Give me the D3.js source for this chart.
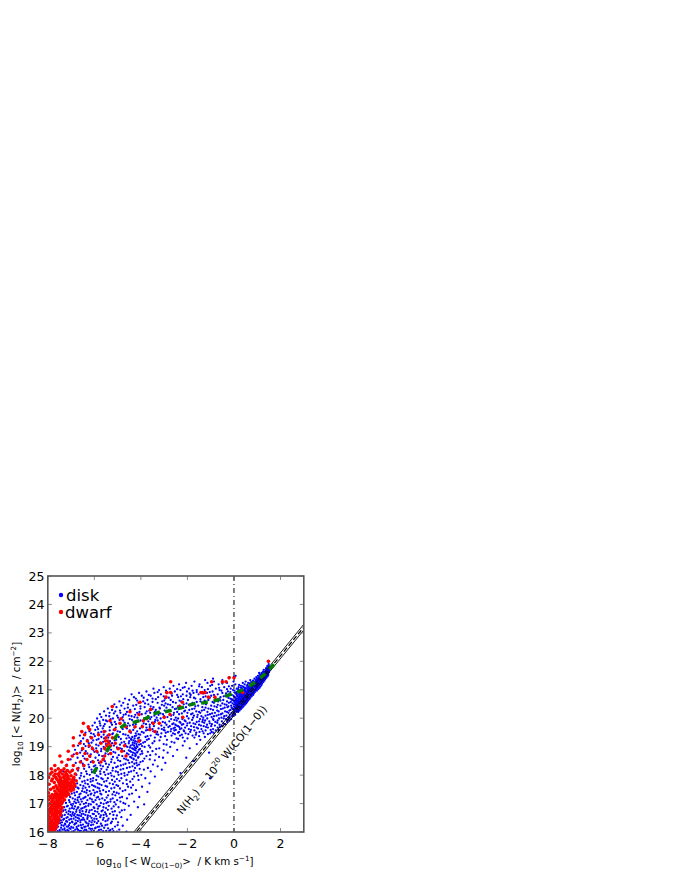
<!DOCTYPE html>
<html><head><meta charset="utf-8">
<script src="https://cdn.jsdelivr.net/npm/d3@7/dist/d3.min.js"></script>
<style>html,body{margin:0;padding:0;background:#fff}svg{display:block}text{font-family:"DejaVu Sans",sans-serif;fill:#000}</style>
</head><body><svg id="c" width="680" height="880"></svg>
<script>
const xTicks=[-8,-6,-4,-2,0,2];
const yTicks=[16,17,18,19,20,21,22,23,24,25];
const legendLabels=["disk","dwarf"];
const meanX=[-5.97,-5.41,-5.07,-4.76,-4.21,-3.75,-3.32,-2.82,-2.29,-1.8,-1.27,-0.74,-0.24,0.26,0.78,1.24,1.62];
const meanY=[18.16,18.92,19.35,19.73,19.88,20.01,20.19,20.25,20.36,20.49,20.55,20.64,20.81,20.96,21.2,21.49,21.81];
const diskRows=[
[16.01,[-7.93,-7.51,-7.44,-6.97,-6.31,-6.24,-5.87,-5.03,-4.62]],
[16.04,[-7.72,-7.11,-6.63,-6.58,-6.02,-5.49,-5.36]],
[16.08,[-7.86,-7.37,-7.29,-6.82,-6.41,-5.71,-4.93]],
[16.11,[-7.64,-7.02,-6.74,-6.16,-6.09,-5.22]],
[16.15,[-7.81,-7.43,-6.91,-6.55,-5.94,-5.58]],
[16.19,[-7.56,-7.18,-7.13,-6.37,-5.78,-5.11]],
[16.22,[-7.89,-7.32,-6.68,-6.27,-5.67,-4.78]],
[16.26,[-7.68,-7.25,-6.86,-6.49,-6.05,-5.44]],
[16.31,[-7.47,-7.05,-6.78,-6.33,-5.89,-5.29]],
[16.34,[-7.75,-7.39,-6.94,-6.6,-6.12,-4.98]],
[16.38,[-7.6,-7.21,-6.71,-6.21,-5.83,-5.52]],
[16.43,[-7.34,-7.08,-6.53,-6.44,-5.63,-4.59]],
[16.47,[-7.52,-6.89,-6.66,-6.0,-5.39,-5.07]],
[16.52,[-7.41,-7.15,-6.8,-6.29,-5.75,-4.84]],
[16.56,[-7.63,-6.98,-6.57,-6.18,-5.93,-5.47]],
[16.6,[-7.27,-7.03,-6.73,-6.39,-5.6,-5.18,-4.44]],
[16.64,[-7.46,-6.84,-6.47,-6.07,-5.81,-5.33]],
[16.69,[-7.2,-6.92,-6.62,-6.23,-5.54,-4.91]],
[16.73,[-7.36,-7.1,-6.51,-5.97,-5.69,-5.12]],
[16.78,[-7.24,-6.77,-6.34,-6.11,-5.42,-4.7]],
[16.82,[-7.06,-6.88,-6.56,-5.85,-5.26]],
[16.87,[-7.3,-6.69,-6.42,-6.03,-5.61,-4.96,-4.13]],
[16.92,[-7.14,-6.95,-6.26,-5.77,-5.38,-4.52]],
[16.97,[-7.0,-6.61,-6.15,-5.9,-5.08,-3.86]],
[17.02,[-7.22,-6.79,-6.36,-5.72,-5.48,-4.75]],
[17.07,[-6.86,-6.54,-6.08,-5.31,-4.88,-4.29]],
[17.12,[-7.09,-6.72,-6.3,-5.95,-5.55,-5.02]],
[17.18,[-6.93,-6.48,-6.19,-5.66,-5.21,-4.6]],
[17.23,[-7.04,-6.65,-6.38,-5.84,-4.81,-4.07]],
[17.29,[-6.83,-6.27,-6.01,-5.41,-5.1]],
[17.35,[-6.97,-6.59,-6.13,-5.74,-4.95,-4.38]],
[17.41,[-6.75,-6.43,-5.88,-5.5,-5.16,-3.72]],
[17.47,[-6.9,-6.32,-6.04,-5.62,-4.67,-4.21]],
[17.53,[-6.68,-6.5,-5.79,-5.27,-4.9]],
[17.59,[-6.81,-6.22,-5.96,-5.45,-4.55,-3.95]],
[17.65,[-6.6,-6.1,-5.69,-5.05,-4.34]],
[17.71,[-6.74,-6.39,-5.86,-5.34,-4.77,-3.63]],
[17.77,[-7.28,-6.52,-6.16,-5.58,-5.12,-4.46]],
[17.83,[-6.86,-6.29,-5.92,-5.24,-4.62,-4.1]],
[17.89,[-6.63,-6.05,-5.7,-5.42,-4.84,-3.81,-1.03]],
[17.95,[-7.14,-6.44,-5.83,-5.15,-4.29,-3.4]],
[18.01,[-6.77,-6.2,-5.53,-4.96,-4.58,-3.98]],
[18.07,[-6.56,-5.98,-5.3,-4.71,-4.18,-2.3]],
[18.13,[-7.33,-6.35,-5.75,-5.08,-4.42,-3.58]],
[18.19,[-6.93,-6.12,-5.47,-4.87,-3.87,-3.1]],
[18.25,[-6.68,-5.89,-5.2,-4.6,-4.25,-3.7]],
[18.31,[-6.46,-6.02,-5.63,-4.99,-4.36,-3.28]],
[18.37,[-7.18,-6.25,-5.37,-4.75,-4.08,-3.48]],
[18.43,[-6.8,-5.8,-5.13,-4.5,-4.19,-2.95]],
[18.49,[-6.57,-6.08,-5.55,-4.89,-3.92,-1.75]],
[18.55,[-7.02,-6.33,-5.26,-4.63,-4.31,-3.62]],
[18.61,[-6.72,-5.95,-5.02,-4.41,-4.12,-3.05,-2.05]],
[18.67,[-6.49,-5.66,-4.8,-4.24,-3.76,-2.62]],
[18.73,[-6.88,-6.15,-5.4,-4.53,-4.02,-3.36]],
[18.79,[-6.61,-5.86,-5.1,-4.34,-4.17,-2.85,-1.07]],
[18.84,[-6.37,-5.71,-4.72,-4.46,-3.96,-3.5]],
[18.89,[-6.83,-6.04,-5.28,-4.28,-4.09,-2.44]],
[18.94,[-6.52,-5.92,-4.9,-4.38,-4.21,-3.21,-1.9]],
[18.99,[-6.24,-5.6,-4.58,-4.15,-3.84,-2.74]],
[19.04,[-6.7,-5.82,-5.16,-4.44,-4.3,-3.66,-2.2]],
[19.09,[-6.45,-5.5,-4.67,-4.19,-4.0,-3.02,-1.6]],
[19.14,[-6.12,-5.75,-4.83,-4.35,-3.9,-2.56]],
[19.19,[-6.58,-5.33,-4.5,-4.24,-4.06,-3.42,-2.12]],
[19.24,[-6.3,-5.9,-5.06,-4.41,-3.74,-2.88,-1.45]],
[19.29,[-6.48,-5.58,-4.62,-4.27,-4.13,-2.47,-2.0]],
[19.34,[-6.17,-5.7,-4.95,-4.37,-3.8,-3.15,-1.25]],
[19.39,[-6.62,-5.44,-4.55,-4.2,-3.58,-2.68,-2.32,-1.78]],
[19.44,[-6.03,-5.23,-4.76,-4.1,-3.33,-2.54,-1.96,-1.12]],
[19.49,[-6.38,-5.83,-4.43,-3.88,-2.93,-2.4,-1.62,-0.88]],
[19.54,[-6.21,-5.52,-5.0,-4.16,-3.47,-2.72,-2.14,-1.35]],
[19.59,[-5.96,-5.17,-4.33,-3.7,-3.02,-2.5,-1.85,-1.0,-0.66]],
[19.64,[-6.26,-5.64,-4.6,-4.04,-3.24,-2.6,-2.26,-1.55]],
[19.69,[-5.88,-5.34,-4.85,-3.62,-2.82,-2.35,-1.72,-1.2,-0.6]],
[19.74,[-6.08,-5.74,-4.48,-3.95,-3.12,-2.46,-2.02,-1.42,-0.82]],
[19.79,[-5.55,-5.07,-4.22,-3.78,-2.65,-2.18,-1.66,-0.95,-0.38]],
[19.84,[-5.98,-5.28,-4.7,-3.52,-2.96,-2.3,-1.9,-1.28,-0.72]],
[19.89,[-5.78,-5.45,-4.12,-3.68,-2.78,-2.08,-1.5,-1.06,-0.52]],
[19.94,[-5.62,-4.92,-4.38,-3.38,-2.56,-1.8,-1.34,-0.88,-0.28]],
[19.99,[-5.88,-5.2,-3.86,-3.15,-2.4,-1.95,-1.15,-0.64,-0.44]],
[20.04,[-5.7,-4.78,-4.28,-3.55,-2.86,-2.22,-1.58,-0.96,-0.18]],
[20.09,[-5.5,-5.02,-4.52,-3.42,-2.7,-1.72,-1.22,-0.75,-0.33,-0.05]],
[20.14,[-5.76,-4.65,-3.96,-3.05,-2.36,-1.84,-1.03,-0.56,0.0]],
[20.19,[-5.35,-4.88,-4.16,-3.6,-2.58,-2.0,-1.45,-0.82,-0.24,-0.1]],
[20.24,[-5.58,-5.1,-3.75,-2.92,-2.14,-1.62,-0.66,-0.38,0.07,0.14]],
[20.29,[-5.24,-4.46,-3.36,-2.78,-1.92,-1.28,-0.9,-0.15,0.0,0.2]],
[20.34,[-5.42,-4.7,-4.02,-3.18,-2.48,-1.7,-1.1,-0.48,-0.06,0.11,0.26]],
[20.39,[-5.05,-3.84,-3.46,-2.64,-2.06,-1.36,-0.74,-0.28,0.04,0.17,0.3]],
[20.44,[-4.84,-4.33,-3.0,-2.34,-1.54,-0.98,-0.58,-0.12,0.09,0.23,0.36]],
[20.49,[-5.14,-4.56,-3.68,-2.84,-2.16,-1.2,-0.4,0.01,0.14,0.27,0.42,0.33]],
[20.54,[-4.76,-4.1,-3.28,-2.5,-1.78,-0.86,-0.22,0.06,0.19,0.31,0.46,0.38]],
[20.59,[-4.92,-3.9,-3.08,-2.26,-1.44,-0.68,-0.3,0.02,0.12,0.25,0.4,0.52]],
[20.64,[-4.5,-3.72,-2.72,-1.98,-1.1,-0.46,-0.08,0.08,0.21,0.35,0.48,0.57]],
[20.69,[-4.68,-4.22,-3.5,-2.96,-1.66,-0.8,-0.16,0.16,0.29,0.43,0.54,0.62]],
[20.74,[-4.3,-3.26,-2.4,-1.88,-1.32,-0.58,0.03,0.24,0.37,0.5,0.66,0.6]],
[20.79,[-3.96,-3.58,-2.66,-2.04,-0.98,-0.36,-0.02,0.13,0.32,0.45,0.56,0.71]],
[20.84,[-4.4,-3.14,-2.2,-1.52,-0.7,-0.2,0.1,0.28,0.41,0.59,0.68,0.76]],
[20.89,[-4.08,-3.42,-2.86,-1.74,-1.16,-0.5,0.05,0.22,0.39,0.53,0.64,0.8]],
[20.94,[-3.76,-2.54,-2.02,-0.92,-0.26,0.18,0.34,0.47,0.6,0.73,0.86]],
[20.99,[-3.22,-2.3,-1.6,-1.26,-0.62,-0.04,0.26,0.44,0.58,0.7,0.83,0.91]],
[21.04,[-3.46,-2.76,-1.94,-0.78,-0.14,0.12,0.36,0.51,0.67,0.78,0.96]],
[21.09,[-3.02,-2.12,-1.38,-0.42,0.2,0.42,0.63,0.74,0.88,1.02]],
[21.14,[-2.6,-1.82,-1.02,-0.08,0.3,0.55,0.7,0.82,0.94,1.07]],
[21.19,[-2.36,-1.48,-0.66,0.06,0.46,0.76,0.86,1.0,1.12]],
[21.24,[-2.06,-1.14,-0.3,0.38,0.61,0.9,1.04,1.16,0.79]],
[21.29,[-1.7,-0.86,-0.02,0.5,0.84,0.98,1.1,1.21]],
[21.34,[-1.24,-0.5,0.7,0.93,1.06,1.18,1.26]],
[21.39,[-0.9,0.0,0.88,1.01,1.14,1.24,1.31]],
[21.44,[-0.2,0.96,1.09,1.2,1.29,1.36]],
[21.49,[0.07,1.03,1.16,1.27,1.34,1.41]],
[21.54,[1.11,1.23,1.32,1.39,1.45]],
[21.59,[1.08,1.19,1.3,1.37,1.44]],
[21.64,[1.25,1.35,1.42,1.48]],
[21.7,[1.28,1.4,1.47,1.52]],
[21.76,[1.38,1.46,1.51]],
[21.83,[1.43,1.5]],
[21.9,[1.49]]
];
const diskExtra=[
[16.03,[-7.58,-7.23,-6.89,-6.46,-6.13,-5.62,-5.18]],
[16.07,[-7.49,-7.16,-6.7,-6.35,-5.8,-5.31]],
[16.13,[-7.28,-7.07,-6.52,-6.22,-5.97,-5.41]],
[16.18,[-7.67,-6.99,-6.76,-6.43,-5.85]],
[16.24,[-7.41,-7.09,-6.58,-6.14,-5.52,-5.0]],
[16.29,[-7.59,-7.26,-6.83,-6.25,-5.72]],
[16.36,[-7.17,-6.96,-6.38,-5.99,-5.25]],
[16.41,[-7.44,-6.8,-6.6,-6.08,-5.43]],
[16.46,[-7.3,-7.0,-6.3,-5.9,-5.2]],
[16.5,[-7.2,-6.72,-6.48,-6.12,-5.6]],
[16.58,[-7.38,-6.87,-6.66,-6.28,-5.72,-5.03]],
[16.63,[-7.12,-6.94,-6.55,-6.02,-5.5]],
[16.71,[-7.03,-6.78,-6.36,-5.87,-5.22]],
[16.76,[-7.33,-6.63,-6.2,-5.64,-4.82]],
[16.84,[-6.96,-6.72,-6.5,-6.0,-5.5]],
[16.9,[-7.18,-6.83,-6.37,-5.82,-5.17]],
[16.99,[-6.91,-6.45,-6.24,-5.6,-4.67]],
[17.05,[-7.06,-6.68,-6.03,-5.42,-5.14]],
[17.15,[-6.82,-6.58,-6.11,-5.78,-5.3]],
[17.21,[-6.71,-6.42,-5.9,-5.47,-4.9]],
[17.32,[-6.64,-6.16,-5.7,-5.22,-4.5]],
[17.38,[-6.86,-6.34,-5.98,-5.04]],
[17.44,[-6.53,-6.2,-5.76,-5.37,-4.78]],
[17.56,[-6.72,-6.38,-5.86,-5.14,-4.42]],
[17.62,[-6.47,-6.02,-5.52,-4.98]],
[17.68,[-6.28,-5.78,-5.2,-4.6]],
[17.8,[-6.42,-6.07,-5.48,-4.92]],
[17.86,[-6.16,-5.64,-5.03,-4.36]],
[17.98,[-6.58,-5.9,-5.26,-4.7,-4.12]],
[18.04,[-6.32,-5.74,-5.4,-4.84]],
[18.1,[-6.1,-5.58,-4.99,-4.52]],
[18.16,[-6.7,-5.92,-5.22,-4.3]],
[18.22,[-6.44,-5.7,-4.76,-4.05]],
[18.28,[-6.22,-5.42,-5.06,-4.48]],
[18.34,[-5.96,-5.74,-4.86,-4.16]],
[18.4,[-6.5,-5.5,-4.66,-4.28]],
[18.46,[-6.15,-5.28,-4.38,-4.02]],
[18.52,[-5.84,-4.98,-4.55,-4.2,-3.4]],
[18.58,[-6.42,-5.6,-4.72,-4.32,-3.85]],
[18.64,[-6.18,-5.2,-4.46,-4.1,-3.22]],
[18.7,[-5.8,-4.95,-4.36,-4.22,-3.6]],
[18.76,[-6.3,-5.52,-4.6,-4.26,-3.94]],
[18.82,[-6.0,-5.18,-4.42,-4.14,-3.7]],
[18.87,[-6.54,-5.4,-4.52,-4.23,-3.02]],
[18.92,[-5.7,-4.82,-4.33,-4.04,-3.34]],
[18.97,[-6.1,-5.03,-4.47,-4.26,-3.6]],
[19.02,[-6.38,-5.44,-4.64,-4.18,-3.95]],
[19.07,[-5.92,-4.9,-4.36,-4.08,-2.9]],
[19.12,[-6.24,-5.24,-4.52,-4.27,-3.5]],
[19.17,[-5.62,-4.72,-4.16,-3.82,-2.68]],
[19.22,[-6.05,-5.13,-4.32,-4.02,-3.2]],
[19.27,[-5.82,-4.86,-4.42,-3.66,-2.4]],
[19.32,[-5.4,-4.5,-4.08,-3.4,-2.2,-1.7]],
[19.37,[-5.98,-5.08,-4.26,-3.72,-2.96,-1.5]],
[19.42,[-5.6,-4.66,-4.03,-3.26,-2.24,-1.64]],
[19.47,[-6.14,-5.2,-4.22,-3.12,-2.62,-2.08,-1.3,-1.02]],
[19.52,[-5.7,-4.9,-3.96,-3.3,-2.84,-2.36,-1.88,-1.48,-0.96]],
[19.57,[-5.34,-4.48,-3.78,-2.98,-2.56,-2.16,-1.7,-1.22,-0.78]],
[19.62,[-5.84,-4.78,-3.5,-3.1,-2.7,-2.32,-1.94,-1.4,-0.9]],
[19.67,[-5.08,-4.28,-3.76,-3.0,-2.54,-2.1,-1.6,-1.12,-0.7]],
[19.72,[-5.6,-4.6,-3.44,-2.76,-2.4,-1.84,-1.3,-0.98,-0.52]],
[19.77,[-5.24,-4.34,-3.62,-2.9,-2.52,-2.24,-1.5,-1.16,-0.62]],
[19.82,[-5.76,-4.55,-3.88,-3.22,-2.6,-2.0,-1.74,-1.04,-0.46]],
[19.87,[-5.12,-4.2,-3.4,-3.06,-2.34,-1.6,-1.36,-0.8,-0.3]],
[19.92,[-5.5,-4.76,-4.02,-3.28,-2.46,-2.12,-1.24,-0.7,-0.2]],
[19.97,[-5.3,-4.48,-3.6,-2.7,-2.22,-1.46,-0.9,-0.34,-0.12]],
[20.02,[-4.98,-4.15,-3.32,-2.5,-1.76,-1.32,-0.54,-0.24]],
[20.07,[-5.36,-4.4,-3.7,-3.0,-2.02,-1.4,-0.86,-0.42,-0.08]],
[20.12,[-4.74,-4.24,-3.24,-2.6,-1.56,-1.12,-0.66,-0.18,0.05]],
[20.17,[-5.16,-3.8,-3.16,-2.24,-1.78,-0.94,-0.5,-0.02]],
[20.22,[-4.6,-4.06,-3.4,-2.44,-1.5,-1.14,-0.3,0.02,0.18]],
[20.27,[-4.9,-3.64,-2.98,-2.1,-1.38,-0.72,-0.2,0.1,0.24]],
[20.32,[-4.26,-3.5,-2.54,-1.8,-1.0,-0.56,-0.04,0.06,0.16,0.3]],
[20.37,[-4.56,-3.2,-2.9,-2.18,-1.22,-0.4,-0.1,0.13,0.22,0.36]],
[20.42,[-4.02,-3.58,-2.4,-1.66,-0.84,-0.24,0.0,0.19,0.28,0.41]],
[20.47,[-4.2,-3.1,-2.74,-1.94,-0.7,-0.32,0.07,0.16,0.35,0.47]],
[20.52,[-3.82,-2.94,-2.04,-1.3,-0.5,-0.06,0.11,0.24,0.43,0.52]],
[20.57,[-3.5,-2.62,-1.6,-0.92,-0.14,0.03,0.17,0.34,0.49,0.56]],
[20.62,[-4.16,-3.0,-2.34,-1.26,-0.58,-0.02,0.14,0.3,0.44,0.61]],
[20.67,[-3.36,-2.18,-1.44,-0.62,-0.1,0.1,0.26,0.38,0.52,0.66]],
[20.72,[-3.88,-2.8,-1.72,-1.04,-0.24,0.07,0.2,0.33,0.46,0.58,0.7]],
[20.77,[-3.02,-2.28,-1.22,-0.44,0.16,0.28,0.42,0.53,0.63,0.76]],
[20.82,[-3.66,-2.44,-1.86,-0.86,-0.1,0.22,0.36,0.5,0.62,0.74,0.82]],
[20.87,[-2.68,-1.9,-1.32,-0.34,0.14,0.32,0.44,0.57,0.72,0.85]],
[20.92,[-3.28,-1.6,-1.04,-0.16,0.1,0.28,0.52,0.66,0.78,0.9]],
[20.97,[-2.92,-1.78,-0.54,0.02,0.38,0.5,0.64,0.76,0.88,0.98]],
[21.02,[-2.44,-1.12,-0.3,0.18,0.46,0.62,0.74,0.85,0.93,1.04]],
[21.07,[-2.2,-0.64,0.3,0.48,0.58,0.7,0.8,0.92,1.0,1.1]],
[21.12,[-1.5,-0.22,0.38,0.62,0.78,0.9,0.98,1.05,1.14]],
[21.17,[-0.94,0.22,0.58,0.72,0.84,0.96,1.04,1.18]],
[21.22,[-0.5,0.68,0.82,0.94,1.02,1.1,1.2]],
[21.27,[0.74,0.9,1.02,1.08,1.16,1.26]],
[21.32,[0.82,0.96,1.04,1.12,1.2,1.3]],
[21.37,[0.98,1.08,1.16,1.22,1.28,1.34]],
[21.42,[1.04,1.12,1.18,1.26,1.32,1.39]],
[21.47,[1.1,1.2,1.25,1.31,1.38,1.44]],
[21.52,[1.16,1.26,1.35,1.42,1.47]],
[21.57,[1.24,1.33,1.4,1.47]],
[21.62,[1.3,1.39,1.45,1.5]],
[21.68,[1.36,1.44,1.5]]
];
const dwarfRows=[
[16.02,[-7.93,-7.81,-7.7]],
[16.09,[-7.97,-7.86,-7.7,-7.76]],
[16.17,[-7.9,-7.76,-7.64,-7.98]],
[16.24,[-7.99,-7.83,-7.64,-7.72]],
[16.31,[-7.92,-7.73,-7.58,-7.84]],
[16.38,[-8.0,-7.85,-7.67,-7.54]],
[16.45,[-7.94,-7.78,-7.6,-7.52,-7.69]],
[16.52,[-7.88,-7.71,-7.55,-7.98,-7.63]],
[16.59,[-7.98,-7.8,-7.63,-7.46,-7.72]],
[16.66,[-7.9,-7.75,-7.59,-7.47,-7.66]],
[16.73,[-7.84,-7.68,-7.5,-7.42,-7.95,-7.6]],
[16.8,[-7.96,-7.77,-7.62,-7.44,-7.86]],
[16.86,[-7.87,-7.72,-7.54,-7.38,-7.63]],
[16.93,[-7.99,-7.82,-7.65,-7.47,-7.56,-7.74]],
[17.0,[-7.91,-7.74,-7.57,-7.4,-7.66,-7.48]],
[17.06,[-7.83,-7.69,-7.51,-7.6,-7.36]],
[17.13,[-7.95,-7.78,-7.6,-7.44,-7.28,-7.52]],
[17.2,[-7.86,-7.66,-7.53,-7.35,-7.74,-7.44]],
[17.26,[-7.92,-7.73,-7.48,-7.22,-7.6,-7.36]],
[17.32,[-7.81,-7.56,-7.41,-7.31,-7.1,-7.68,-7.2]],
[17.38,[-7.97,-7.64,-7.46,-7.25,-7.36,-7.14]],
[17.44,[-7.7,-7.52,-7.36,-7.17,-7.0,-7.44,-7.28]],
[17.5,[-7.88,-7.58,-7.29,-7.06,-7.44,-7.18,-6.9]],
[17.56,[-7.76,-7.43,-7.2,-6.93,-7.6,-7.32,-7.04]],
[17.62,[-7.65,-7.34,-7.12,-6.98,-7.48,-7.24,-6.84]],
[17.68,[-7.94,-7.5,-7.26,-7.03,-6.85,-7.38,-7.14]],
[17.74,[-7.72,-7.4,-7.15,-6.9,-7.52,-7.28,-7.02]],
[17.8,[-7.84,-7.55,-7.3,-6.96,-6.78,-7.18,-7.42]],
[17.86,[-7.62,-7.23,-7.08,-7.46,-6.92,-7.8]],
[17.92,[-7.96,-7.47,-7.32,-6.88,-7.14,-7.66]],
[17.98,[-7.74,-7.14,-7.0,-7.52,-7.28]],
[18.04,[-7.9,-7.56,-7.38,-6.82,-7.68,-7.2]],
[18.1,[-7.82,-7.25,-7.05,-7.48]],
[18.16,[-7.68,-7.42,-6.95,-5.97,-7.16]],
[18.22,[-7.85,-7.55,-6.72,-7.3]],
[18.34,[-7.7,-7.2,-6.9,-6.45]],
[18.46,[-7.4,-6.6,-6.05,-5.72]],
[18.55,[-7.12,-6.32,-5.62]],
[18.67,[-7.48,-6.95,-6.2,-5.56,-4.64]],
[18.76,[-6.75,-6.4,-5.3]],
[18.84,[-7.12,-5.9,-4.82]],
[18.93,[-6.5,-6.08,-5.55,-4.98]],
[19.03,[-6.9,-6.22,-5.46,-5.3,-4.7]],
[19.12,[-6.62,-5.72,-5.38,-5.1]],
[19.2,[-6.3,-5.52,-5.42,-4.08]],
[19.31,[-6.9,-6.12,-5.5,-5.22]],
[19.42,[-6.42,-5.82,-5.36]],
[19.53,[-6.54,-5.58,-4.47,-3.39]],
[19.6,[-6.2,-5.12,-3.61]],
[19.7,[-6.26,-4.65,-4.25,-3.94]],
[19.82,[-6.47,-4.9,-3.47,-3.21]],
[19.91,[-5.33,-3.9]],
[19.98,[-4.85,-3.75]],
[20.03,[-2.2,-3.0]],
[20.13,[-4.08,-2.75]],
[20.23,[-4.47]],
[20.31,[-3.58]],
[20.41,[-5.23,-2.32]],
[20.56,[-4.04,-2.22]],
[20.74,[-2.92,-0.82,-1.1]],
[20.9,[-2.89,-1.42,-1.24,-1.36,-2.72,0.37]],
[21.28,[-2.72,-0.96,-0.5,-0.34]],
[21.42,[0.0,-0.21]],
[22.0,[1.48]]
];
const svg=d3.select("#c");
const x=d3.scaleLinear().domain([-8,3]).range([47.8,303.8]);
const y=d3.scaleLinear().domain([16,25]).range([832,576]);
const g=svg.append("g");
svg.append("defs").append("clipPath").attr("id","pl").append("rect")
 .attr("x",x(-8)).attr("y",y(25)).attr("width",x(3)-x(-8)).attr("height",y(16)-y(25));
const plot=g.append("g").attr("clip-path","url(#pl)");
const flat=r=>r.flatMap(([yy,xs])=>xs.map(v=>[v,yy]));
const disk=flat(diskRows).concat(flat(diskExtra)),dwarf=flat(dwarfRows);
plot.append("g").selectAll("circle").data(disk).join("circle")
 .attr("cx",d=>x(d[0])).attr("cy",d=>y(d[1])).attr("r",1.15).attr("fill","#0000ff");
const ln=(off)=>d3.line().x(d=>x(d)).y(d=>y(d+off))([-5,3]);
plot.append("path").attr("d",ln(20.3)).attr("fill","none").attr("stroke","#000").attr("stroke-width",0.9);
plot.append("path").attr("d",ln(20.1)).attr("fill","none").attr("stroke","#000").attr("stroke-width",0.9);
plot.append("path").attr("d",ln(20.2)).attr("fill","none").attr("stroke","#000").attr("stroke-width",1.2).attr("stroke-dasharray","5,2.5");
plot.append("g").selectAll("circle").data(dwarf).join("circle")
 .attr("cx",d=>x(d[0])).attr("cy",d=>y(d[1])).attr("r",1.8).attr("fill","#ff0000");
plot.append("g").selectAll("line").data(meanX).join("line")
 .each(function(d,i){
   const n=meanX.length;
   const p=i>0?i-1:i,q=i<n-1?i+1:i;
   const dx=x(meanX[q])-x(meanX[p]),dy=y(meanY[q])-y(meanY[p]);
   const L=Math.hypot(dx,dy)||1,h=3.4;
   const cx=x(d),cy=y(meanY[i]);
   d3.select(this).attr("x1",cx-dx/L*h).attr("y1",cy-dy/L*h).attr("x2",cx+dx/L*h).attr("y2",cy+dy/L*h);
 }).attr("stroke","#008000").attr("stroke-width",3.4);
plot.append("line").attr("x1",x(0)).attr("x2",x(0)).attr("y1",y(25)).attr("y2",y(16))
 .attr("stroke","#000").attr("stroke-width",1).attr("stroke-dasharray","5,3,1,3");
const spine="#555";
const ax=g.append("g");
ax.selectAll(".bx").data(xTicks).join("line").attr("x1",d=>x(d)).attr("x2",d=>x(d)).attr("y1",y(16)).attr("y2",y(16)-4).attr("stroke",spine).attr("stroke-width",0.7);
ax.selectAll(".tx").data(xTicks).join("line").attr("x1",d=>x(d)).attr("x2",d=>x(d)).attr("y1",y(25)).attr("y2",y(25)+4).attr("stroke",spine).attr("stroke-width",0.7);
ax.selectAll(".ly").data(yTicks).join("line").attr("y1",d=>y(d)).attr("y2",d=>y(d)).attr("x1",x(-8)).attr("x2",x(-8)+4).attr("stroke",spine).attr("stroke-width",0.7);
ax.selectAll(".ry").data(yTicks).join("line").attr("y1",d=>y(d)).attr("y2",d=>y(d)).attr("x1",x(3)).attr("x2",x(3)-4).attr("stroke",spine).attr("stroke-width",0.7);
ax.append("rect").attr("x",x(-8)).attr("y",y(25)).attr("width",x(3)-x(-8)).attr("height",y(16)-y(25)).attr("fill","none").attr("stroke",spine).attr("stroke-width",1.6);
ax.selectAll(".xl").data(xTicks).join("text").attr("x",d=>x(d)).attr("y",848).attr("text-anchor","middle").attr("font-size",12.5)
 .text(d=>d<0?"\u2212\u200a"+Math.abs(d):d);
ax.selectAll(".yl").data(yTicks).join("text").attr("x",44.5).attr("y",d=>y(d)+4.6).attr("text-anchor","end").attr("font-size",12.5).text(d=>d);
function rich(t,parts,fs){
 let prev=0;
 parts.forEach(([s,k])=>{
  const off=k==="sub"?0.3:k==="sup"?-0.42:0;
  t.append("tspan").text(s).attr("dy",((off-prev)*fs).toFixed(2)).attr("font-size",k?fs*0.7:fs).attr("xml:space","preserve");
  prev=off;
 });
}
rich(svg.append("text").attr("x",175).attr("y",865).attr("text-anchor","middle").style("white-space","pre"),
 [["log"],["10","sub"],[" [< W"],["CO(1\u22120)","sub"],[">  / K km s"],["\u22121","sup"],["]"]],10.3);
rich(svg.append("text").attr("transform","translate(20,704) rotate(-90)").attr("text-anchor","middle").style("white-space","pre"),
 [["log"],["10","sub"],[" [< N(H"],["2","sub"],[")>  / cm"],["\u22122","sup"],["]"]],10.3);
rich(svg.append("text").attr("transform","translate(182,815) rotate(-51)").style("white-space","pre"),
 [["N(H"],["2","sub"],[") = 10"],["20","sup"],[" W(CO(1\u22120))"]],10.6);
const legY=[595,612],legTx=[66,65];
svg.append("g").selectAll("circle").data(legendLabels).join("circle").attr("cx",61).attr("cy",(d,i)=>legY[i]).attr("r",2.2).attr("fill",(d,i)=>i?"#ff0000":"#0000ff");
svg.append("g").selectAll("text").data(legendLabels).join("text").attr("x",(d,i)=>legTx[i]).attr("y",(d,i)=>legY[i]+5.5).attr("font-size",16.5).text(d=>d);
</script></body></html>
